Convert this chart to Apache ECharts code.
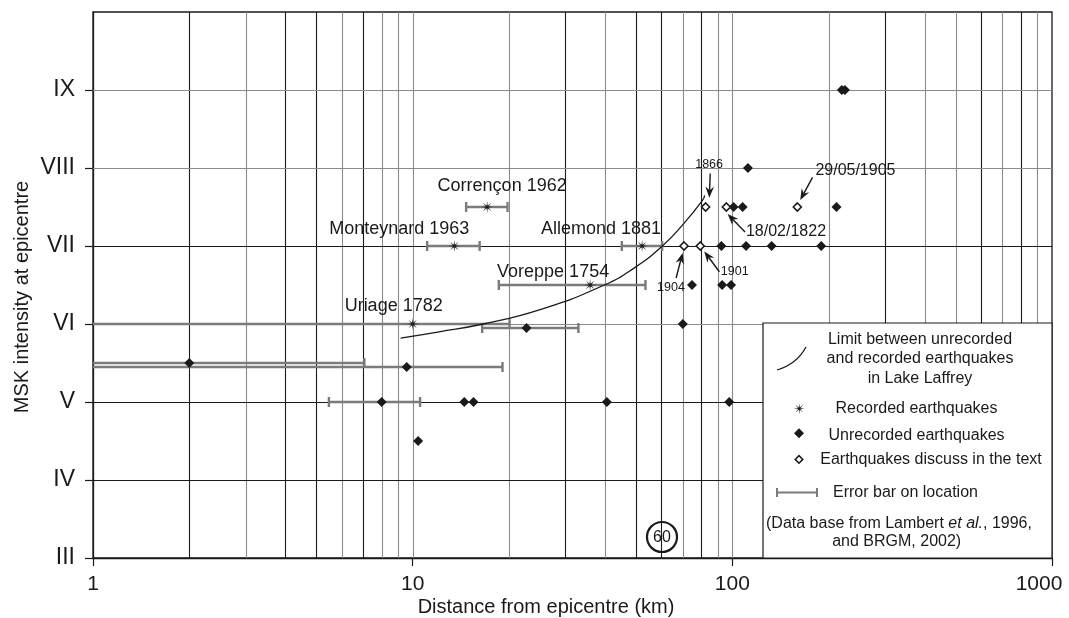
<!DOCTYPE html>
<html><head><meta charset="utf-8">
<script src="https://cdn.jsdelivr.net/npm/echarts@6/dist/echarts.min.js"></script>
<style>html,body{margin:0;padding:0;background:#fff}#c{width:1069px;height:618px}</style>
</head><body><div id="c"></div>
<script>
// ---------------- data ----------------
const romanLabels = {3:'III',4:'IV',5:'V',6:'VI',7:'VII',8:'VIII',9:'IX'};
const yTickValues = [3,4,5,6,7,8,9];
const gridX = [2,3,4,5,6,7,8,9,10,20,30,40,50,60,70,80,90,100,200,300,400,500,600,700,800,900];
const gridXTone = ['d','g','d','d','g','d','g','g','g','g','d','g','d','d','g','d','g','g','g','d','g','g','d','g','d','g'];
const gridY = [4,5,6,7,8,9];
const gridYTone = ['d','d','g','d','g','g'];

// recorded earthquakes (stars) with location error bars
const recordedNames = ['Corrençon 1962','Monteynard 1963','Allemond 1881','Voreppe 1754','Uriage 1782'];
const recordedDist  = [17.1, 13.5, 52.2, 35.9, 10.0];
const recordedInt   = [7.5, 7.0, 7.0, 6.5, 6.0];
const recordedErrLo = [14.7, 11.1, 45.1, 18.6, 1];
const recordedErrHi = [19.8, 16.2, 60.3, 53.5, 20.1];

// unrecorded earthquakes (filled diamonds)
const unrecDist = [2.0, 9.58, 22.7, 8.0, 14.5, 15.5, 40.5, 97.8, 10.4, 70, 220, 225, 111.9, 100.9, 107.7, 211.8, 92.4, 110.4, 132.7, 189.7, 74.8, 92.9, 99.1];
const unrecInt  = [5.5, 5.45, 5.95, 5, 5, 5, 5, 5, 4.5, 6, 9, 9, 8, 7.5, 7.5, 7.5, 7, 7, 7, 7, 6.5, 6.5, 6.5];
const unrecErrLo  = [1, 1, 16.5, 5.47];
const unrecErrHi  = [7.06, 19.1, 33.0, 10.55];
const unrecErrInt = [5.5, 5.45, 5.95, 5];

// earthquakes discussed in the text (open diamonds)
const discussedDist = [82.5, 95.8, 159.7, 70.6, 79.4];
const discussedInt  = [7.5, 7.5, 7.5, 7.0, 7.0];

// limit between unrecorded and recorded earthquakes
const limitDist = [9.17, 12.1, 16.6, 24.9, 39.8, 49.4, 60.4, 69.9, 80.8, 81.9];
const limitInt  = [5.82, 5.9, 6.0, 6.18, 6.5, 6.72, 7.0, 7.27, 7.59, 7.65];

// annotations
const yearNotes = ['1866','1904','1901'];
const yearNoteDist = [84.6, 64.3, 101.7];
const yearNoteInt  = [8.05, 6.47, 6.67];
const dateNotes = ['18/02/1822','29/05/1905'];
const dateNoteDist = [147.2, 242.7];
const dateNoteInt  = [7.18, 7.97];
const arrowFromDist = [85.3, 109.6, 178.2, 66.7, 91.1];
const arrowFromInt  = [7.93, 7.18, 7.88, 6.59, 6.67];
const arrowToDist   = [84.7, 96.7, 163.1, 69.9, 81.7];
const arrowToInt    = [7.62, 7.41, 7.59, 6.91, 6.93];

// ---------------- styling / layout ----------------
const FONT = "'Liberation Sans', Arial, Helvetica, sans-serif";
const INK = '#1a1a1a';
const GRAY = '#8a8a8a';
const ERR = '#7b7b7b';
const recordedLabelOffset = [[15,-21],[-55,-17],[-41,-17],[-37,-13],[-19,-18]];

function starPoints(cx, cy, R, r){
  const pts = [];
  for (let i = 0; i < 16; i++) {
    const a = i * Math.PI / 8 - Math.PI / 2;
    const rr = i % 2 === 0 ? R : r;
    pts.push([cx + rr * Math.cos(a), cy + rr * Math.sin(a)]);
  }
  return pts;
}
const STAR = 'path://' + starPoints(10, 10, 10, 2.3).map((p, i) => (i ? 'L' : 'M') + p[0].toFixed(2) + ' ' + p[1].toFixed(2)).join('') + 'Z';

function gridSeries(vertical){
  const vals = vertical ? gridX : gridY;
  const tones = vertical ? gridXTone : gridYTone;
  return {
    type: 'custom', z: 1, silent: true,
    data: vals.map((v, i) => vertical ? [v, 5, tones[i] === 'd' ? 1 : 0] : [10, v, tones[i] === 'd' ? 1 : 0]),
    encode: {x: 0, y: 1},
    renderItem(params, api){
      const cs = params.coordSys;
      const p = api.coord([api.value(0), api.value(1)]);
      const dark = api.value(2) === 1;
      let shape;
      if (vertical) { const x = Math.round(p[0]) + 0.5; shape = {x1: x, y1: cs.y, x2: x, y2: cs.y + cs.height}; }
      else { const y = Math.round(p[1]) + 0.5; shape = {x1: cs.x, y1: y, x2: cs.x + cs.width, y2: y}; }
      return {type: 'line', shape, style: {stroke: dark ? INK : GRAY, lineWidth: 1.1}};
    }
  };
}

const errData = recordedErrLo.map((lo, i) => [lo, recordedErrHi[i], recordedInt[i]])
  .concat(unrecErrLo.map((lo, i) => [lo, unrecErrHi[i], unrecErrInt[i]]));

const chart = echarts.init(document.getElementById('c'), null, {renderer: 'canvas'});

function T(x, y, text, opts){
  return Object.assign({type: 'text', x, y, z: 30, silent: true,
    style: Object.assign({text, fill: INK, font: '16px ' + FONT, align: 'center', verticalAlign: 'middle'}, opts || {})});
}

const legendStar = starPoints(799.3, 408.7, 5.5, 1.2);

const option = {
  backgroundColor: '#fff',
  animation: false,
  grid: {left: 93, right: 17, top: 12, bottom: 60, show: true, borderColor: INK, borderWidth: 1.3, backgroundColor: 'transparent', outerBoundsMode: 'none'},
  xAxis: {
    type: 'log', logBase: 10, min: 1, max: 1000,
    name: 'Distance from epicentre (km)', nameLocation: 'middle', nameGap: 39, nameMoveOverlap: false,
    nameTextStyle: {fontFamily: FONT, fontSize: 20, color: INK, padding: [0, 53, 0, 0]},
    axisLine: {show: true, lineStyle: {color: INK, width: 1.3}},
    axisTick: {show: true, inside: false, length: 8, lineStyle: {color: INK, width: 1.2}},
    axisLabel: {show: true, fontFamily: FONT, fontSize: 21, color: INK, margin: 16,
      formatter: v => (v >= 1000 ? '{e|' + v + '}' : String(v)),
      rich: {e: {fontFamily: FONT, fontSize: 21, color: INK, padding: [0, 26, 0, 0]}}},
    splitLine: {show: false}, minorSplitLine: {show: false}
  },
  yAxis: {
    type: 'value', min: 3, max: 10, interval: 1,
    name: 'MSK intensity at epicentre', nameLocation: 'middle', nameGap: 61, nameRotate: 90, nameMoveOverlap: false,
    nameTextStyle: {fontFamily: FONT, fontSize: 20, color: INK, padding: [0, 24, 0, 0]},
    axisLine: {show: true, lineStyle: {color: INK, width: 1.3}},
    axisTick: {show: true, inside: false, length: 8, lineStyle: {color: INK, width: 1.2}, customValues: yTickValues},
    axisLabel: {show: true, fontFamily: FONT, fontSize: 23, color: INK, margin: 18, customValues: yTickValues,
      formatter: v => romanLabels[v] || ''},
    splitLine: {show: false}
  },
  series: [
    gridSeries(true),
    gridSeries(false),
    {
      type: 'custom', z: 3, silent: true, data: errData, encode: {x: [0, 1], y: 2},
      renderItem(params, api){
        const lo = api.value(0), hi = api.value(1), v = api.value(2);
        const a = api.coord([lo, v]), b = api.coord([hi, v]);
        const yy = Math.round(a[1]);
        const capH = 5;
        const ch = [{type: 'line', shape: {x1: a[0], y1: yy, x2: b[0], y2: yy}, style: {stroke: ERR, lineWidth: 2.6}}];
        if (lo > 1) ch.push({type: 'line', shape: {x1: a[0], y1: yy - capH, x2: a[0], y2: yy + capH}, style: {stroke: ERR, lineWidth: 2.4}});
        ch.push({type: 'line', shape: {x1: b[0], y1: yy - capH, x2: b[0], y2: yy + capH}, style: {stroke: ERR, lineWidth: 2.4}});
        return {type: 'group', children: ch};
      }
    },
    {
      type: 'line', z: 4, silent: true, smooth: 0.5, showSymbol: false, symbol: 'none',
      data: limitDist.map((d, i) => [d, limitInt[i]]),
      lineStyle: {color: INK, width: 1.3}
    },
    {
      type: 'scatter', z: 6, silent: true, symbol: 'diamond', symbolSize: [10, 10],
      itemStyle: {color: INK, opacity: 1},
      data: unrecDist.map((d, i) => [d, unrecInt[i]])
    },
    {
      type: 'scatter', z: 7, silent: true, symbol: 'diamond', symbolSize: [8, 8],
      itemStyle: {color: '#fff', borderColor: INK, borderWidth: 1.6, opacity: 1},
      data: discussedDist.map((d, i) => [d, discussedInt[i]])
    },
    {
      type: 'scatter', z: 7, silent: true, symbol: STAR, symbolSize: 12,
      itemStyle: {color: INK, opacity: 1},
      data: recordedDist.map((d, i) => ({value: [d, recordedInt[i]], name: recordedNames[i],
        label: {offset: recordedLabelOffset[i]}})),
      label: {show: true, position: 'inside', formatter: p => p.name, fontFamily: FONT, fontSize: 18, color: INK, opacity: 1}
    },
    {
      type: 'custom', z: 8, silent: true,
      data: arrowFromDist.map((d, i) => [d, arrowFromInt[i], arrowToDist[i], arrowToInt[i]]),
      encode: {x: [0, 2], y: [1, 3]},
      renderItem(params, api){
        const a = api.coord([api.value(0), api.value(1)]);
        const b = api.coord([api.value(2), api.value(3)]);
        const dx = b[0] - a[0], dy = b[1] - a[1], L = Math.hypot(dx, dy);
        const ux = dx / L, uy = dy / L, px = -uy, py = ux;
        const head = 11, half = 4.3, notch = 7.5;
        const bx = b[0] - ux * head, by = b[1] - uy * head;
        const pts = [[b[0], b[1]], [bx + px * half, by + py * half], [b[0] - ux * notch, b[1] - uy * notch], [bx - px * half, by - py * half]];
        return {type: 'group', children: [
          {type: 'line', shape: {x1: a[0], y1: a[1], x2: b[0] - ux * notch, y2: b[1] - uy * notch}, style: {stroke: INK, lineWidth: 1.4}},
          {type: 'polygon', shape: {points: pts}, style: {fill: INK}}
        ]};
      }
    },
    {
      type: 'custom', z: 8, silent: true,
      data: yearNotes.map((t, i) => [yearNoteDist[i], yearNoteInt[i], i]),
      encode: {x: 0, y: 1},
      renderItem(params, api){
        const p = api.coord([api.value(0), api.value(1)]);
        return {type: 'text', x: p[0], y: p[1], style: {text: yearNotes[api.value(2)], fill: INK, font: '12.5px ' + FONT, align: 'center', verticalAlign: 'middle'}};
      }
    },
    {
      type: 'custom', z: 8, silent: true,
      data: dateNotes.map((t, i) => [dateNoteDist[i], dateNoteInt[i], i]),
      encode: {x: 0, y: 1},
      renderItem(params, api){
        const p = api.coord([api.value(0), api.value(1)]);
        return {type: 'text', x: p[0], y: p[1], style: {text: dateNotes[api.value(2)], fill: INK, font: '16px ' + FONT, align: 'center', verticalAlign: 'middle'}};
      }
    }
  ],
  graphic: [
    {type: 'rect', z: 20, silent: true, shape: {x: 763, y: 323, width: 289, height: 235}, style: {fill: '#fff', stroke: INK, lineWidth: 1.2}},
    {type: 'bezierCurve', z: 30, silent: true, shape: {x1: 777, y1: 370, cpx1: 797, cpy1: 364, x2: 806, y2: 347}, style: {stroke: INK, lineWidth: 1.3, fill: null}},
    T(920, 339.5, 'Limit between unrecorded'),
    T(920, 359, 'and recorded earthquakes'),
    T(920, 378.5, 'in Lake Laffrey'),
    {type: 'polygon', z: 30, silent: true, shape: {points: legendStar}, style: {fill: INK}},
    T(916.5, 409, 'Recorded earthquakes'),
    {type: 'polygon', z: 30, silent: true, shape: {points: [[799, 428.3], [804, 433.3], [799, 438.3], [794, 433.3]]}, style: {fill: INK}},
    T(916.5, 435.5, 'Unrecorded earthquakes'),
    {type: 'polygon', z: 30, silent: true, shape: {points: [[799, 455.6], [802.8, 459.4], [799, 463.2], [795.2, 459.4]]}, style: {fill: '#fff', stroke: INK, lineWidth: 1.5}},
    T(931, 459.5, 'Earthquakes discuss in the text'),
    {type: 'line', z: 30, silent: true, shape: {x1: 776, y1: 492.5, x2: 818, y2: 492.5}, style: {stroke: ERR, lineWidth: 2}},
    {type: 'line', z: 30, silent: true, shape: {x1: 777, y1: 488, x2: 777, y2: 497}, style: {stroke: ERR, lineWidth: 2}},
    {type: 'line', z: 30, silent: true, shape: {x1: 817, y1: 488, x2: 817, y2: 497}, style: {stroke: ERR, lineWidth: 2}},
    T(833, 492.5, 'Error bar on location', {align: 'left'}),
    {type: 'text', z: 30, silent: true, x: 899, y: 523.5, style: {
      text: '(Data base from Lambert {i|et al.}, 1996,', fill: INK, font: '16px ' + FONT, align: 'center', verticalAlign: 'middle',
      rich: {i: {fontStyle: 'italic', fontSize: 16, fontFamily: FONT, fill: INK, color: INK}}}},
    T(896.7, 541.5, 'and BRGM, 2002)'),
    {type: 'circle', z: 30, silent: true, shape: {cx: 662, cy: 537, r: 15}, style: {fill: null, stroke: INK, lineWidth: 2.2}},
    T(662, 537.5, '60', {font: '16px ' + FONT})
  ]
};
chart.setOption(option);
</script>
</body></html>
